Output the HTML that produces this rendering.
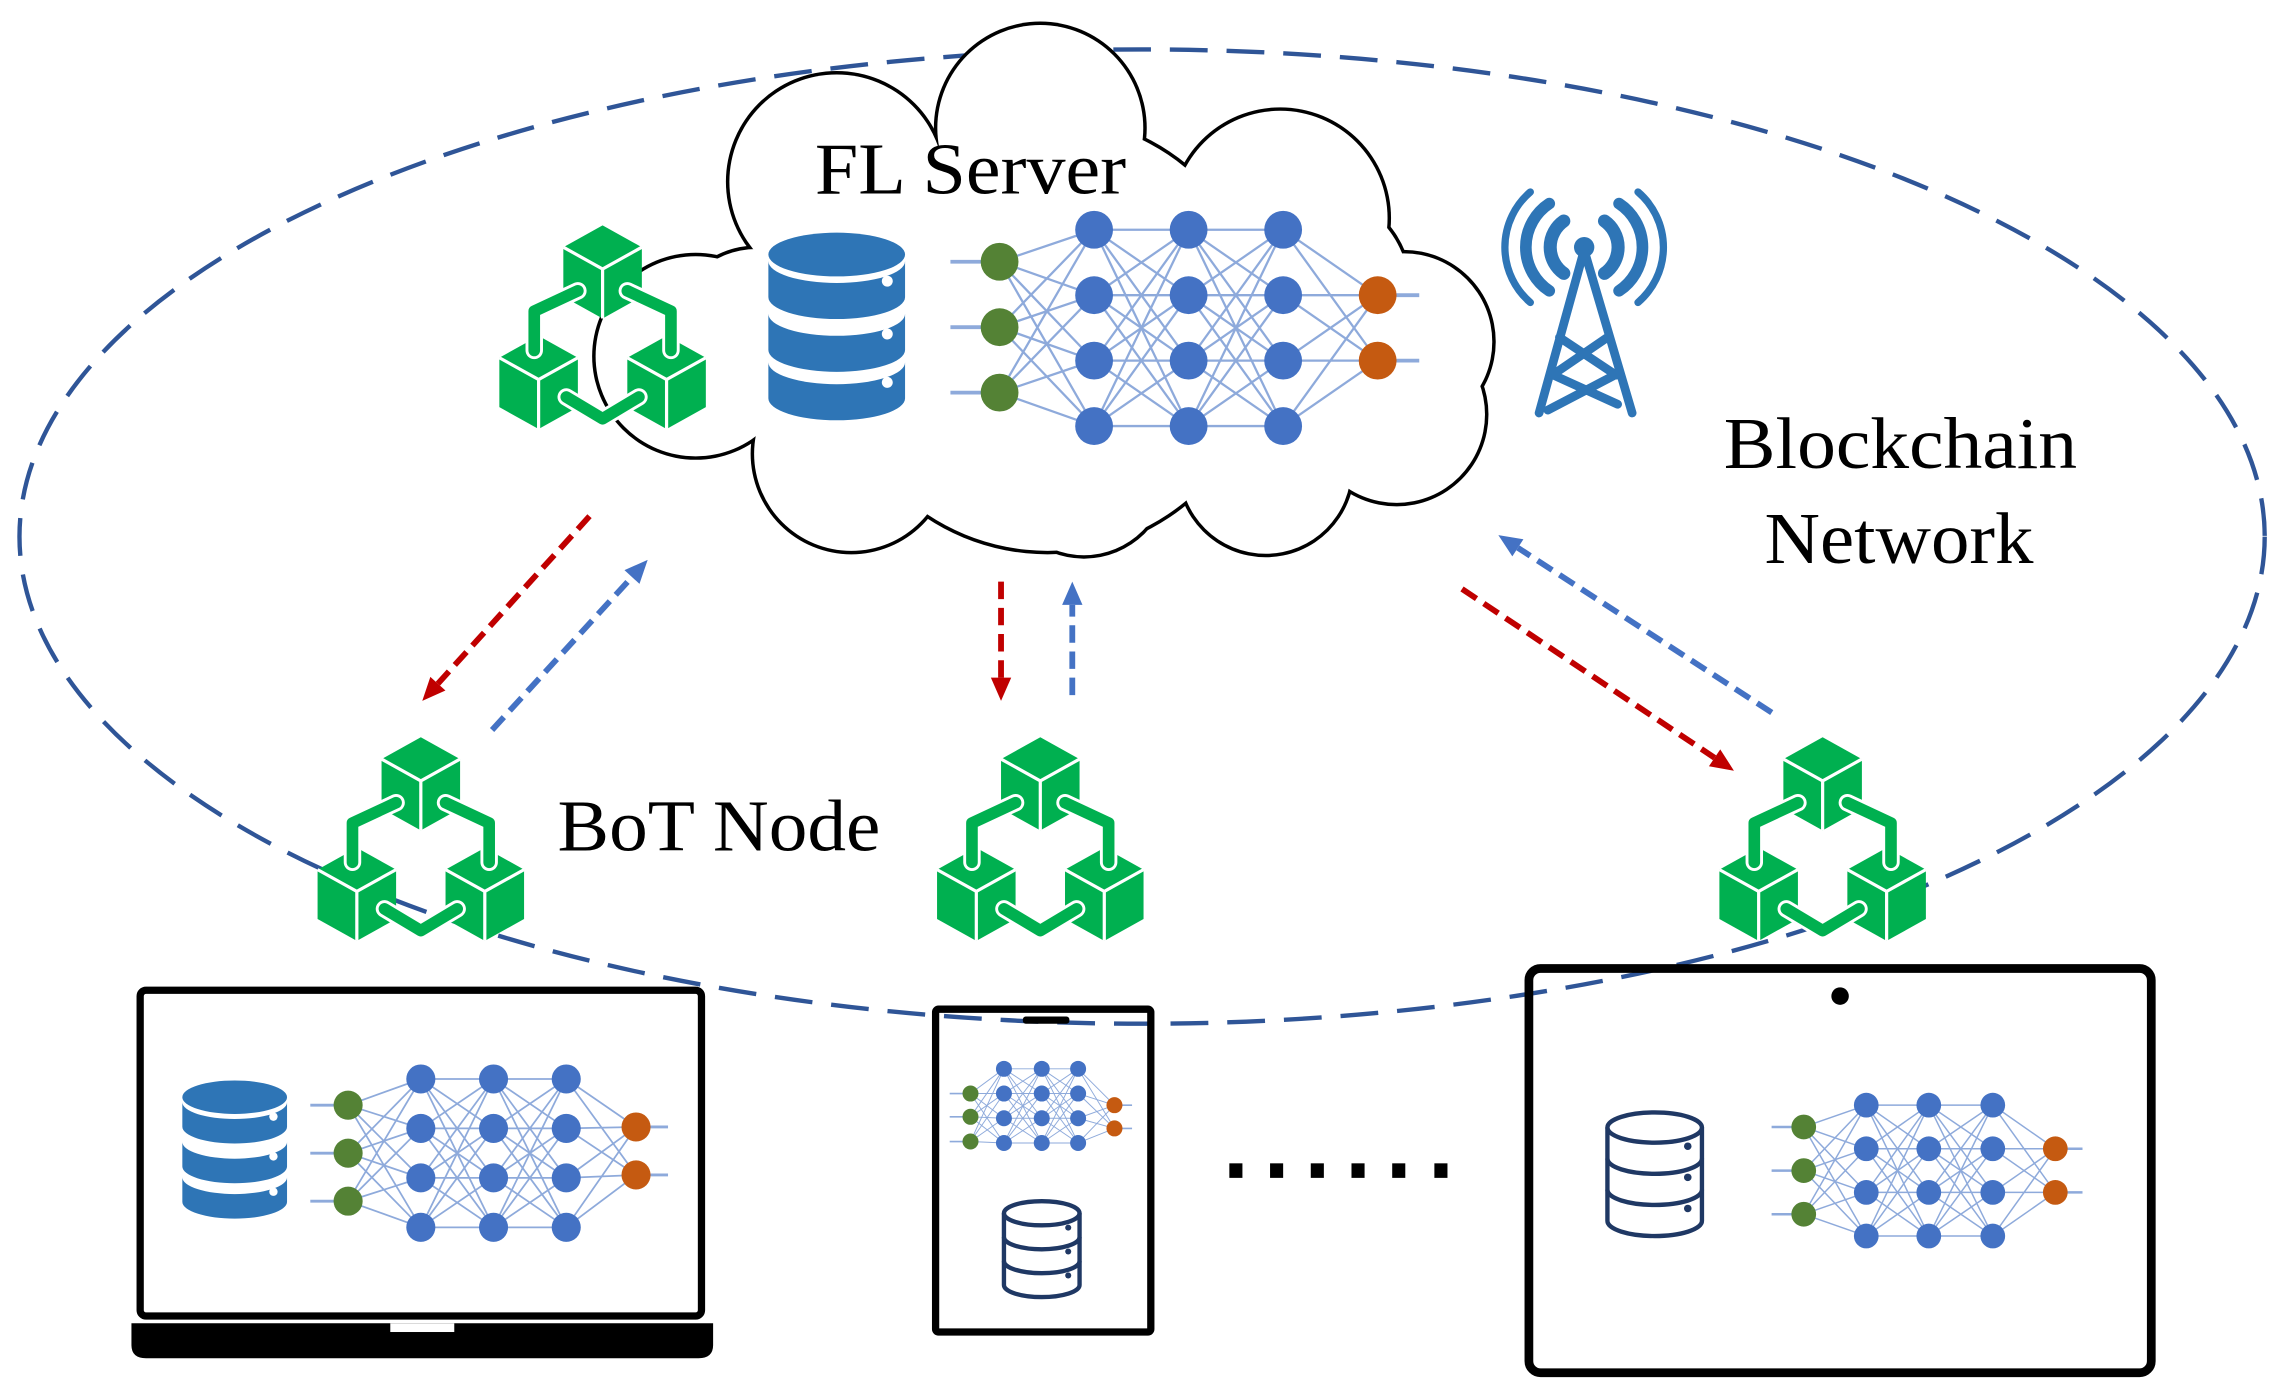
<!DOCTYPE html>
<html><head><meta charset="utf-8"><style>
html,body{margin:0;padding:0;background:#fff;}
svg{display:block;}
text{font-family:"Liberation Serif",serif;fill:#000;}
</style></head><body>
<svg id="s" width="2274" height="1396" viewBox="0 0 1563 960" xmlns="http://www.w3.org/2000/svg">
<rect width="1563" height="960" fill="#fff"/>
<ellipse cx="785" cy="369" rx="772" ry="335" fill="none" stroke="#2f5597" stroke-width="3" stroke-dasharray="26 13"/>
<g id="cloud"></g>
<text x="560" y="133" font-size="50" textLength="214" lengthAdjust="spacingAndGlyphs">FL Server</text>
<text x="1185" y="322" font-size="50" textLength="243" lengthAdjust="spacingAndGlyphs">Blockchain</text>
<text x="1213" y="387" font-size="50" textLength="185" lengthAdjust="spacingAndGlyphs">Network</text>
<text x="383" y="585" font-size="50" textLength="222" lengthAdjust="spacingAndGlyphs">BoT Node</text>
<g id="g"></g>
<!-- tower -->
<g fill="none" stroke="#2e75b6" stroke-linecap="round">
<circle cx="1089" cy="170" r="7" fill="#2e75b6" stroke="none"/>
<path d="M1089 172 L1058 284 M1089 172 L1122 284 M1072 232 L1111 258 M1105 232 L1067 258 M1068 258 L1112 278 M1110 258 L1064 282" stroke-width="6"/>
<path d="M1075 152 A22 22 0 0 0 1075 188 M1103 152 A22 22 0 0 1 1103 188" stroke-width="9"/>
<path d="M1065 140 A36 36 0 0 0 1065 200 M1113 140 A36 36 0 0 1 1113 200" stroke-width="8"/>
<path d="M1052 132 A50 50 0 0 0 1052 208 M1126 132 A50 50 0 0 1 1126 208" stroke-width="5"/>
</g>
<!-- laptop -->
<rect x="96" y="681" width="386" height="224" rx="4" fill="none" stroke="#000" stroke-width="5"/>
<path d="M90 910 H490 V925 Q490 934 480 934 H100 Q90 934 90 925 Z" fill="#000"/>
<rect x="268" y="910" width="44" height="6" fill="#fff"/>
<!-- phone -->
<rect x="643" y="694" width="148" height="222" rx="2" fill="none" stroke="#000" stroke-width="5"/>
<rect x="703" y="699" width="32" height="5" rx="2" fill="#000"/>
<!-- tablet -->
<rect x="1051" y="666" width="428" height="278" rx="8" fill="none" stroke="#000" stroke-width="6"/>
<circle cx="1265" cy="685" r="6" fill="#000"/>
<g fill="#000"><rect x="845" y="800" width="9" height="10"/><rect x="873" y="800" width="9" height="10"/><rect x="901" y="800" width="9" height="10"/><rect x="929" y="800" width="9" height="10"/><rect x="957" y="800" width="9" height="10"/><rect x="986" y="800" width="9" height="10"/></g>
<g id="a"></g>
</svg>
<script>
var NS="http://www.w3.org/2000/svg";
function add(p,tag,at){var e=document.createElementNS(NS,tag);for(var k in at)e.setAttribute(k,at[k]);p.appendChild(e);return e;}
var cl=document.getElementById('cloud');
var C=[[715,88,72],[575,125,75],[880,150,75],[965,235,62],[960,285,62],[870,322,60],[745,325,58],[585,312,68],[478,245,70],[720,230,150],[520,230,60],[860,240,95],[610,240,95],[900,200,70]];
C.forEach(function(c){add(cl,'circle',{cx:c[0],cy:c[1],r:c[2]+1.2,fill:'#000'});});
C.forEach(function(c){add(cl,'circle',{cx:c[0],cy:c[1],r:c[2]-1.2,fill:'#fff'});});
var g=document.getElementById('g');
function db(x,y,w,h,filled,col){
 var ry=w*0.16;
 if(filled){
  var bh=(h-ry*2)/3;
  add(g,'ellipse',{cx:x+w/2,cy:y+ry,rx:w/2,ry:ry,fill:col});
  for(var i=0;i<3;i++){var t=y+ry+i*bh+(i?3:0);
   add(g,'path',{d:'M'+x+' '+(t+ry*0.3)+' V'+(t+bh-4)+' A'+w/2+' '+ry+' 0 0 0 '+(x+w)+' '+(t+bh-4)+' V'+(t+ry*0.3)+' A'+w/2+' '+ry+' 0 0 1 '+x+' '+(t+ry*0.3)+'Z',fill:col});
   add(g,'circle',{cx:x+w*0.87,cy:t+bh*0.55,r:w*0.04,fill:'#fff'});}
 } else {
  var bh=(h-ry*2)/3;
  add(g,'ellipse',{cx:x+w/2,cy:y+ry,rx:w/2,ry:ry,fill:'none',stroke:col,'stroke-width':3});
  add(g,'path',{d:'M'+x+' '+(y+ry)+' V'+(y+h-ry)+' A'+w/2+' '+ry+' 0 0 0 '+(x+w)+' '+(y+h-ry)+' V'+(y+ry),fill:'none',stroke:col,'stroke-width':3});
  for(var i=1;i<3;i++){var t=y+ry+i*bh;add(g,'path',{d:'M'+x+' '+t+' A'+w/2+' '+ry+' 0 0 0 '+(x+w)+' '+t,fill:'none',stroke:col,'stroke-width':3});}
  for(var i=0;i<3;i++)add(g,'circle',{cx:x+w*0.85,cy:y+ry+i*bh+bh*0.6,r:w*0.04,fill:col});
 }
}
db(528,160,94,130,true,'#2e75b6');
db(125,743,72,96,true,'#2e75b6');
db(690,826,52,66,false,'#1f3864');
db(1105,765,65,85,false,'#1f3864');
function nn(ix,iy,hx,hy,ox,oy,r){
 var pts=[];
 pts.push(iy.map(function(y){return [ix[0],y]}));
 hx.forEach(function(x){pts.push(hy.map(function(y){return [x,y]}));});
 pts.push(oy.map(function(y){return [ox,y]}));
 for(var l=0;l<pts.length-1;l++)pts[l].forEach(function(a){pts[l+1].forEach(function(b){add(g,'line',{x1:a[0],y1:a[1],x2:b[0],y2:b[1],stroke:'#8eaadb','stroke-width':r*0.12});});});
 pts[0].forEach(function(a){add(g,'line',{x1:a[0]-r*2.6,y1:a[1],x2:a[0],y2:a[1],stroke:'#8eaadb','stroke-width':r*0.2});});
 pts[pts.length-1].forEach(function(a){add(g,'line',{x1:a[0],y1:a[1],x2:a[0]+r*2.2,y2:a[1],stroke:'#8eaadb','stroke-width':r*0.2});});
 pts.forEach(function(L,i){L.forEach(function(a){add(g,'circle',{cx:a[0],cy:a[1],r:r,fill:i==0?'#548235':(i==pts.length-1?'#c55a11':'#4472c4')});});});
}
nn([687],[180,225,270],[752,817,882],[158,203,248,293],947,[203,248],13);
nn([239],[760,793,826],[289,339,389],[742,776,810,844],437,[775,808],10);
nn([667],[752,768,785],[690,716,741],[735,752,769,786],766,[760,776],5.5);
nn([1240],[775,805,835],[1283,1326,1370],[760,790,820,850],1413,[790,820],8.5);
function cube(cx,cy){
 add(g,'polygon',{points:[cx,cy-32,cx+27,cy-17,cx+27,cy+17,cx,cy+32,cx-27,cy+17,cx-27,cy-17].join(' '),fill:'#00b050'});
 add(g,'path',{d:'M'+(cx-27)+' '+(cy-17)+' L'+cx+' '+(cy-2)+' L'+(cx+27)+' '+(cy-17)+' M'+cx+' '+(cy-2)+' V'+(cy+32),stroke:'#fff','stroke-width':2.2,fill:'none'});
}
function chain(cx,top){
 var ty=top+34;
 var d='M'+(cx-17)+' '+(ty+13)+' L'+(cx-47)+' '+(ty+27)+' L'+(cx-47)+' '+(ty+54)+' M'+(cx+17)+' '+(ty+13)+' L'+(cx+47)+' '+(ty+27)+' L'+(cx+47)+' '+(ty+54);
 var v='M'+(cx-25)+' '+(ty+86)+' L'+cx+' '+(ty+101)+' L'+(cx+25)+' '+(ty+86);
 cube(cx,ty);cube(cx-44,top+110);cube(cx+44,top+110);
 [d,v].forEach(function(p){add(g,'path',{d:p,stroke:'#fff','stroke-width':12,fill:'none','stroke-linecap':'round','stroke-linejoin':'round'});add(g,'path',{d:p,stroke:'#00b050','stroke-width':8,fill:'none','stroke-linecap':'round','stroke-linejoin':'round'});});
}
chain(414,153);chain(289,505);chain(715,505);chain(1253,505);
var a=document.getElementById('a');
function arrow(x1,y1,x2,y2,col){
 var dx=x2-x1,dy=y2-y1,l=Math.sqrt(dx*dx+dy*dy),ux=dx/l,uy=dy/l,h=16,w=7;
 var bx=x2-ux*h,by=y2-uy*h;
 add(a,'line',{x1:x1,y1:y1,x2:bx,y2:by,stroke:col,'stroke-width':4,'stroke-dasharray':'12 6'});
 add(a,'polygon',{points:[x2,y2,bx-uy*w,by+ux*w,bx+uy*w,by-ux*w].join(' '),fill:col});
}
var R='#c00000',B='#4472c4';
arrow(405,355,290,482,R);arrow(338,502,445,385,B);
arrow(688,400,688,482,R);arrow(737,478,737,400,B);
arrow(1005,405,1192,530,R);arrow(1218,490,1030,368,B);
</script>
</body></html>
